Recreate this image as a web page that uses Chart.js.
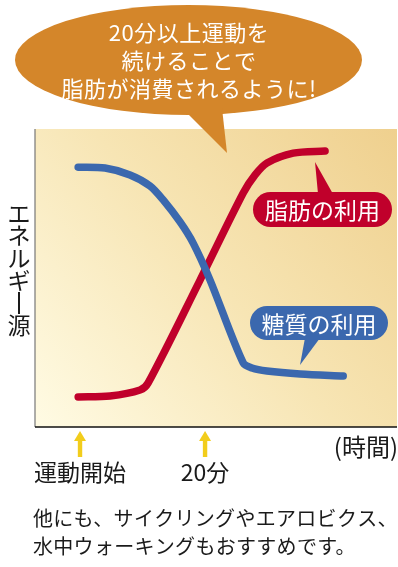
<!DOCTYPE html>
<html>
<head>
<meta charset="utf-8">
<script src="https://cdn.jsdelivr.net/npm/chart.js@4/dist/chart.umd.min.js"></script>
<style>
  html, body { margin: 0; padding: 0; background: #fff; }
  canvas { display: block; }
</style>
</head>
<body>
<canvas id="chart" width="398" height="567"></canvas>
<script>
// time in minutes from start of exercise, share of energy source (0-100)
const sugarX = [-0.3, 4, 8, 11.2, 13.3, 16, 18.1, 20.8, 26.1, 27.5, 29.9, 35.2, 42.1];
const sugarY = [87.2, 86.9, 84.6, 80.9, 76.2, 68.8, 61.7, 49.3, 21.5, 19.8, 18.8, 17.8, 17.1];
const fatX = [-0.3, 4.8, 9.6, 10.9, 19.2, 26.1, 28, 29.9, 34.1, 39.2];
const fatY = [10.1, 10.4, 12.4, 14.8, 49.3, 78.5, 84.6, 88.6, 91.9, 92.6];

const seriesNames = ['糖質の利用', '脂肪の利用'];
const tickValues = [0, 20];
const tickLabels = ['運動開始', '20分'];
const xTitle = '(時間)';
const yTitle = 'エネルギー源';
const bubbleLines = ['20分以上運動を', '続けることで', '脂肪が消費されるように!'];
const noteLines = ['他にも、サイクリングやエアロビクス、', '水中ウォーキングもおすすめです。'];

const BLUE = '#3b68ae';
const RED = '#c0002b';
const ORANGE = '#d4862a';
const YELLOW = '#f2cd1c';
const FONT = '"Noto Sans CJK JP", "Noto Sans", sans-serif';

function toPoints(xs, ys) {
  return xs.map((x, i) => ({ x: x, y: ys[i] }));
}

function roundRect(ctx, x, y, w, h, r) {
  ctx.beginPath();
  ctx.moveTo(x + r, y);
  ctx.lineTo(x + w - r, y);
  ctx.arc(x + w - r, y + r, r, -Math.PI / 2, Math.PI / 2);
  ctx.lineTo(x + r, y + h);
  ctx.arc(x + r, y + r, r, Math.PI / 2, Math.PI * 1.5);
  ctx.closePath();
}

function callout(ctx, box, tail, color, text) {
  ctx.fillStyle = color;
  roundRect(ctx, box[0], box[1], box[2], box[3], box[3] / 2);
  ctx.fill();
  ctx.beginPath();
  ctx.moveTo(tail[0], tail[1]);
  ctx.lineTo(tail[2], tail[3]);
  ctx.lineTo(tail[4], tail[5]);
  ctx.closePath();
  ctx.fill();
  ctx.fillStyle = '#fff';
  ctx.font = '23px ' + FONT;
  ctx.textAlign = 'center';
  ctx.textBaseline = 'middle';
  ctx.fillText(text, box[0] + box[2] / 2, box[1] + box[3] / 2 + 1);
}

const backdrop = {
  id: 'backdrop',
  beforeDraw(chart) {
    const { ctx, chartArea: a } = chart;
    ctx.save();
    const g = ctx.createLinearGradient(a.left, a.bottom, a.right, a.top);
    g.addColorStop(0, '#fffbe4');
    g.addColorStop(0.5, '#f7e5b4');
    g.addColorStop(1, '#efd08e');
    ctx.fillStyle = g;
    ctx.fillRect(a.left, a.top, a.right - a.left, a.bottom - a.top);
    // axes
    ctx.strokeStyle = '#777';
    ctx.lineWidth = 1.2;
    ctx.beginPath();
    ctx.moveTo(a.left, a.top);
    ctx.lineTo(a.left, a.bottom);
    ctx.stroke();
    ctx.strokeStyle = '#111';
    ctx.lineWidth = 1.5;
    ctx.beginPath();
    ctx.moveTo(a.left, a.bottom);
    ctx.lineTo(a.right, a.bottom);
    ctx.stroke();
    ctx.restore();
  },
  afterDraw(chart) {
    const { ctx, chartArea: a } = chart;
    const xs = chart.scales.x;
    ctx.save();

    // speech bubble
    ctx.fillStyle = ORANGE;
    ctx.beginPath();
    ctx.ellipse(188.5, 60, 173.5, 55, 0, 0, Math.PI * 2);
    ctx.fill();
    ctx.beginPath();
    ctx.moveTo(182, 108);
    ctx.lineTo(222, 108);
    ctx.lineTo(227, 153);
    ctx.closePath();
    ctx.fill();
    ctx.fillStyle = '#fff';
    ctx.font = '22px ' + FONT;
    ctx.textAlign = 'center';
    ctx.textBaseline = 'middle';
    ctx.letterSpacing = '0.5px';
    bubbleLines.forEach((t, i) => ctx.fillText(t, 189, 33 + i * 28));
    ctx.letterSpacing = '0px';

    // series callouts
    callout(ctx, [253, 192, 139, 35], [318, 194, 333, 194, 315, 162], RED, seriesNames[1]);
    callout(ctx, [250, 306, 138, 34], [305, 338, 320, 338, 300, 365], BLUE, seriesNames[0]);

    // tick arrows + labels
    ctx.fillStyle = YELLOW;
    tickValues.forEach(v => {
      const px = xs.getPixelForValue(v);
      ctx.beginPath();
      ctx.moveTo(px, a.bottom + 4);
      ctx.lineTo(px + 6, a.bottom + 14);
      ctx.lineTo(px - 6, a.bottom + 14);
      ctx.closePath();
      ctx.fill();
      ctx.fillRect(px - 2.2, a.bottom + 13, 4.4, 17);
    });
    ctx.fillStyle = '#1a1a1a';
    ctx.font = '23px ' + FONT;
    ctx.textBaseline = 'middle';
    ctx.textAlign = 'center';
    tickValues.forEach((v, i) => ctx.fillText(tickLabels[i], xs.getPixelForValue(v), a.bottom + 45));
    ctx.textAlign = 'right';
    ctx.font = '24px ' + FONT;
    ctx.fillText(xTitle, a.right + 1, a.bottom + 20);

    // vertical y title
    ctx.font = '23px ' + FONT;
    ctx.textAlign = 'center';
    const chars = Array.from(yTitle);
    chars.forEach((c, i) => {
      const cy = 213 + i * 22.5;
      if (c === 'ー') {
        ctx.fillRect(18, cy - 11, 2, 22);
      } else {
        ctx.fillText(c, 19, cy);
      }
    });

    // note
    ctx.fillStyle = '#1a1a1a';
    ctx.font = '20px ' + FONT;
    ctx.textAlign = 'left';
    ctx.letterSpacing = '0.3px';
    noteLines.forEach((t, i) => ctx.fillText(t, 33, 518 + i * 28));
    ctx.restore();
  }
};

new Chart(document.getElementById('chart'), {
  type: 'line',
  data: {
    datasets: [
      {
        label: seriesNames[0],
        data: toPoints(sugarX, sugarY),
        borderColor: BLUE
      },
      {
        label: seriesNames[1],
        data: toPoints(fatX, fatY),
        borderColor: RED
      }
    ]
  },
  options: {
    responsive: false,
    animation: false,
    layout: { padding: { left: 35, right: 1, top: 129, bottom: 140 } },
    elements: {
      line: {
        borderWidth: 7.5,
        borderCapStyle: 'round',
        borderJoinStyle: 'round',
        tension: 0.3,
        fill: false
      },
      point: { radius: 0, hoverRadius: 0 }
    },
    scales: {
      x: { type: 'linear', min: -7.2, max: 50.7, display: false },
      y: { min: 0, max: 100, display: false }
    },
    plugins: {
      legend: { display: false },
      tooltip: { enabled: false }
    }
  },
  plugins: [backdrop]
});
</script>
</body>
</html>
